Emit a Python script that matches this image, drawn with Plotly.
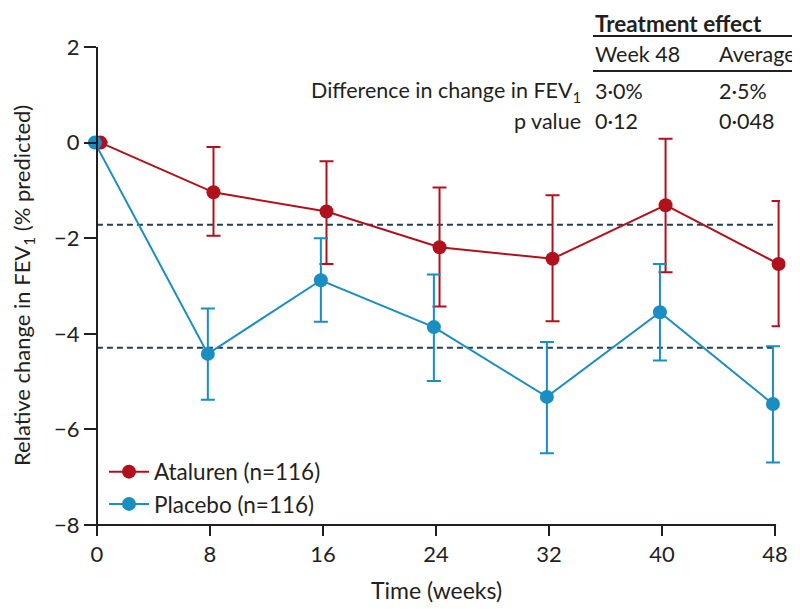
import plotly.graph_objects as go

# ---- data ----
weeks = [0, 8, 16, 24, 32, 40, 48]
ataluren_mean = [0.0, -1.04, -1.44, -2.19, -2.43, -1.31, -2.54]
ataluren_upper = [0.0, -0.09, -0.39, -0.94, -1.10, 0.08, -1.22]
ataluren_lower = [0.0, -1.95, -2.54, -3.43, -3.74, -2.71, -3.84]
placebo_mean = [0.0, -4.42, -2.88, -3.86, -5.32, -3.55, -5.47]
placebo_upper = [0.0, -3.47, -2.00, -2.76, -4.17, -2.54, -4.26]
placebo_lower = [0.0, -5.38, -3.75, -4.99, -6.50, -4.56, -6.69]
average_levels = [-1.72, -4.29]
series_names = ["Ataluren (n=116)", "Placebo (n=116)"]
y_ticks = [-8, -6, -4, -2, 0, 2]
x_ticks = [0, 8, 16, 24, 32, 40, 48]

table_title = "Treatment effect"
table_cols = ["Week 48", "Average"]
table_rows = ["Difference in change in FEV<sub>1</sub>", "p value"]
table_vals = [["3·0%", "2·5%"], ["0·12", "0·048"]]

RED = "#b0121d"
BLUE = "#1a8dc1"
DASH = "#26404f"
INK = "#231f20"
FONT = "Lato"

XR = [-0.35, 48.35]
OFF = 8                                # page body margin
L, R, T, B = 92, 780, 47, 525          # plot area in page px
W, H = 800 - OFF, 609 - OFF


def px(x):
    return (x - L) / (R - L)


def py(y):
    return (B - y) / (B - T)


fig = go.Figure()


def add_series(name, mean, upper, lower, color, offset):
    plus = [u - m for u, m in zip(upper, mean)]
    minus = [m - l for m, l in zip(mean, lower)]
    fig.add_trace(go.Scatter(
        x=[w + offset for w in weeks], y=mean, name=name,
        mode="lines+markers",
        line=dict(color=color, width=2),
        marker=dict(color=color, size=14),
        error_y=dict(type="data", symmetric=False, array=plus, arrayminus=minus,
                     color=color, thickness=2, width=7),
        cliponaxis=False,
    ))


for lvl in average_levels:
    fig.add_shape(type="line", xref="x", yref="y", x0=0, x1=48, y0=lvl, y1=lvl,
                  line=dict(color=DASH, width=2, dash="6px,4px"), layer="below")

add_series(series_names[0], ataluren_mean, ataluren_upper, ataluren_lower, RED, 0.25)
add_series(series_names[1], placebo_mean, placebo_upper, placebo_lower, BLUE, -0.15)

# x-axis line from week 0 to week 48
x0_px = L + (0 - XR[0]) / (XR[1] - XR[0]) * (R - L)
x48_px = L + (48 - XR[0]) / (XR[1] - XR[0]) * (R - L)
fig.add_shape(type="line", xref="paper", yref="paper", x0=px(x0_px - 1), x1=px(x48_px + 1),
              y0=0, y1=0, line=dict(color=INK, width=2))

# table
ann = []
ann.append(dict(x=px(593), y=py(23), text="<b>" + table_title + "</b>", xanchor="left",
                font=dict(family=FONT, size=22.5, color=INK)))
ann.append(dict(x=px(593), y=py(54), text=table_cols[0], xanchor="left"))
ann.append(dict(x=px(717), y=py(54), text=table_cols[1], xanchor="left"))
row_y = [91, 121]
for r, lab in enumerate(table_rows):
    ann.append(dict(x=px(583), y=py(row_y[r]), text=lab, xanchor="right"))
    ann.append(dict(x=px(593), y=py(row_y[r]), text=table_vals[r][0], xanchor="left"))
    ann.append(dict(x=px(717), y=py(row_y[r]), text=table_vals[r][1], xanchor="left"))
for a in ann:
    a.setdefault("font", dict(family=FONT, size=21.5, color=INK))
    a.update(xref="paper", yref="paper", showarrow=False, yanchor="middle")
    fig.add_annotation(**a)

for yy in [36, 71]:
    fig.add_shape(type="line", xref="paper", yref="paper", x0=px(593), x1=px(793),
                  y0=py(yy), y1=py(yy), line=dict(color=INK, width=2))

# axis titles
fig.add_annotation(x=px(436), y=py(590), xref="paper", yref="paper", showarrow=False,
                   text="Time (weeks)", xanchor="center", yanchor="middle",
                   font=dict(family=FONT, size=23, color=INK))
fig.add_annotation(x=px(23), y=py(286), xref="paper", yref="paper", showarrow=False,
                   text="Relative change in FEV<sub>1</sub> (% predicted)", textangle=-90,
                   xanchor="center", yanchor="middle",
                   font=dict(family=FONT, size=22, color=INK))

fig.update_layout(
    width=W, height=H,
    margin=dict(l=L - OFF, r=W - (R - OFF), t=T - OFF, b=H - (B - OFF)),
    plot_bgcolor="white", paper_bgcolor="white",
    font=dict(family=FONT, size=22, color=INK),
    showlegend=True,
    legend=dict(x=px(104), y=py(488), xanchor="left", yanchor="middle",
                bgcolor="rgba(0,0,0,0)", font=dict(size=22.5), itemwidth=40,
                tracegroupgap=0),
)
fig.update_xaxes(range=XR, tickvals=x_ticks, showgrid=False, zeroline=False,
                 showline=False, automargin=False,
                 ticks="outside", ticklen=10, tickwidth=2, tickcolor=INK,
                 tickfont=dict(size=22))
fig.update_yaxes(range=[-8, 2], tickvals=y_ticks,
                 ticktext=[str(v).replace("-", "−") for v in y_ticks],
                 showgrid=False, zeroline=False, automargin=False,
                 anchor="free", position=px(x0_px),
                 showline=True, linecolor=INK, linewidth=2,
                 ticks="outside", ticklen=12, tickwidth=2, tickcolor=INK,
                 tickfont=dict(size=22))

fig.write_html("out.html")
